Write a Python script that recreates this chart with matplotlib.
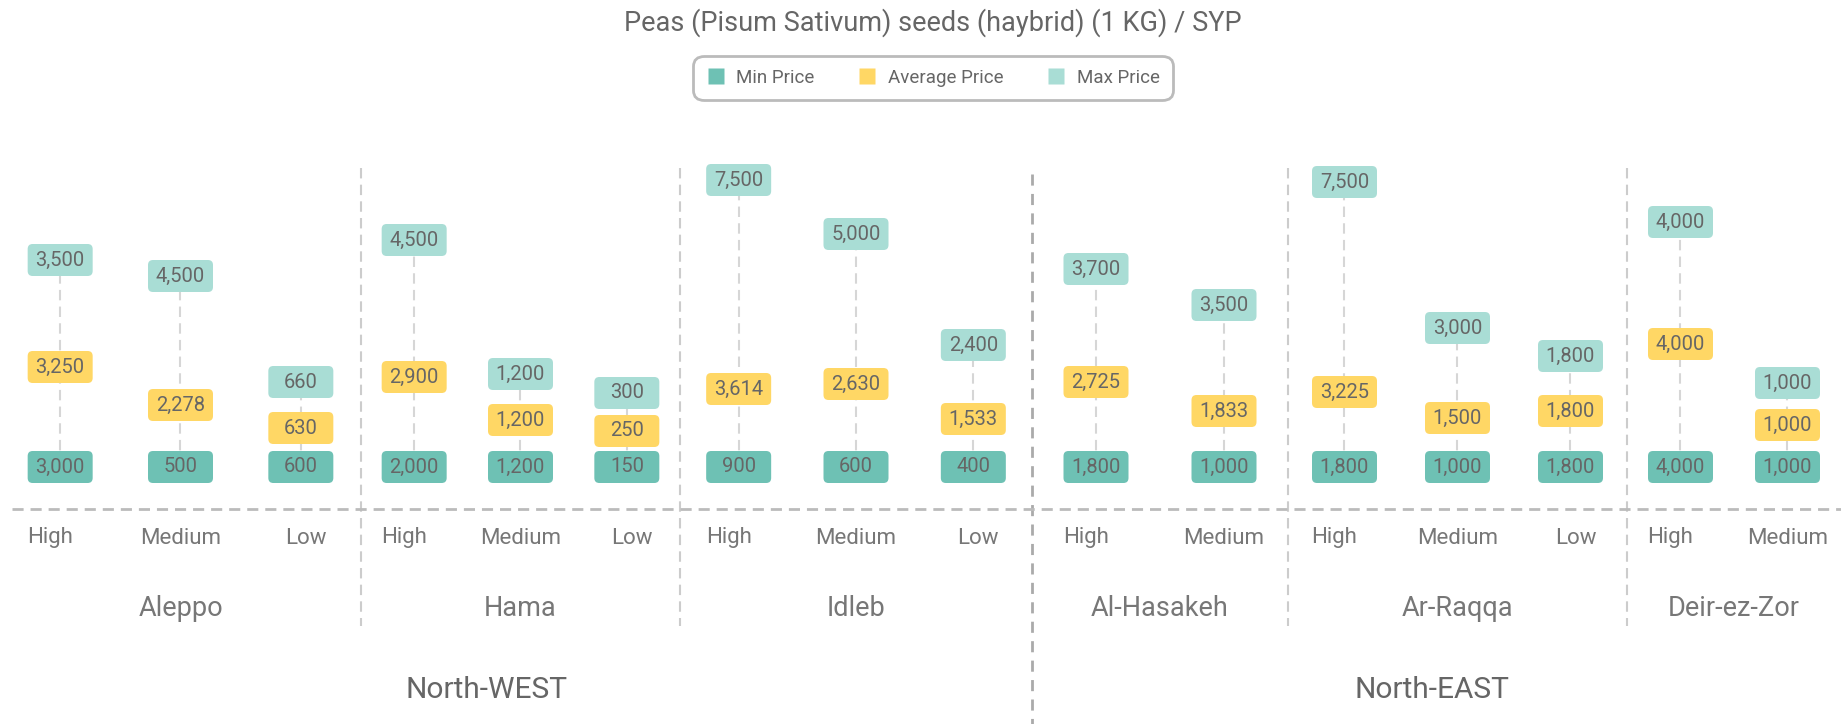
import matplotlib
matplotlib.use("Agg")
import matplotlib.pyplot as plt
from matplotlib.patches import FancyBboxPatch
from matplotlib.lines import Line2D

plt.rcParams["font.family"] = ["Roboto", "DejaVu Sans"]

# data
regions = ["Aleppo", "Hama", "Idleb", "Al-Hasakeh", "Ar-Raqqa", "Deir-ez-Zor"]
region_counts = [3, 3, 3, 2, 3, 2]
zones = ["North-WEST", "North-EAST"]
levels = ["High", "Medium", "Low", "High", "Medium", "Low", "High", "Medium", "Low",
          "High", "Medium", "High", "Medium", "Low", "High", "Medium"]
min_price = [3000, 500, 600, 2000, 1200, 150, 900, 600, 400,
             1800, 1000, 1800, 1000, 1800, 4000, 1000]
avg_price = [3250, 2278, 630, 2900, 1200, 250, 3614, 2630, 1533,
             2725, 1833, 3225, 1500, 1800, 4000, 1000]
max_price = [3500, 4500, 660, 4500, 1200, 300, 7500, 5000, 2400,
             3700, 3500, 7500, 3000, 1800, 4000, 1000]
# label heights above the min row, as drawn in the original
avg_level = [100, 62, 39, 90, 47, 36, 78, 83, 48, 85, 56, 75, 49, 56, 123, 42]
max_level = [207, 191, 85, 227, 93, 74, 287, 233, 122, 198, 162, 285, 139, 111, 245, 84]

# layout
region_widths = [361, 319, 352, 256, 339, 214]
W, H = 1841, 724
base = 467  # min row, pixels from top
c_min, c_avg, c_max = "#6EC1B4", "#FFD765", "#A9DDD5"
txt = "#666666"
tick_shift = {"High": -10, "Medium": 0, "Low": 5}

fig = plt.figure(figsize=(W / 100, H / 100), dpi=100)
ax = fig.add_axes([0, 0, 1, 1])
ax.set_xlim(0, W)
ax.set_ylim(-(H - base), base)
ax.axis("off")

xs = []
starts = []
s = 0
for w, n in zip(region_widths, region_counts):
    starts.append(s)
    for j in range(n):
        xs.append(s + (j + 0.5) * w / n)
    s += w

bw, bh, r = 65, 32, 5


def box(x, y, val, color):
    ax.add_patch(FancyBboxPatch((x - bw / 2 + r, y - bh / 2 + r), bw - 2 * r, bh - 2 * r,
                                boxstyle=f"round,pad={r}", fc=color, ec="none", zorder=3))
    ax.text(x, y, f"{val:,}", ha="center", va="center", fontsize=14.5, color=txt, zorder=4)


for i, x in enumerate(xs):
    ax.plot([x, x], [0, max_level[i]], color="#D6D6D6", lw=1.5, ls=(0, (5, 3)), zorder=1)
    box(x, 0, min_price[i], c_min)
    box(x, avg_level[i], avg_price[i], c_avg)
    box(x, max_level[i], max_price[i], c_max)
    ax.text(x + tick_shift[levels[i]], base - 538, levels[i], ha="center", va="center",
            fontsize=16, color="#777777")

# separators
for k in range(1, len(region_widths)):
    xb = starts[k]
    if k == 3:
        ax.plot([xb, xb], [base - 174, -(H - base)], color="#AAAAAA", lw=2, ls=(0, (4, 3)), zorder=1)
    else:
        ax.plot([xb, xb], [base - 168, base - 626], color="#CCCCCC", lw=1.5, ls=(0, (5, 3)), zorder=1)

ax.plot([12, W], [base - 509, base - 509], color="#BBBBBB", lw=2, ls=(0, (4, 2.5)), zorder=1)

for k, name in enumerate(regions):
    cx = starts[k] + region_widths[k] / 2
    ax.text(cx, base - 608, name, ha="center", va="center", fontsize=19.5, color="#777777")

ax.text(487, base - 690, zones[0], ha="center", va="center", fontsize=21.5, color=txt)
ax.text(1432, base - 690, zones[1], ha="center", va="center", fontsize=21.5, color=txt)

ax.text(933, base - 23, "Peas (Pisum Sativum) seeds (haybrid) (1 KG) / SYP",
        ha="center", va="center", fontsize=19.5, color=txt)

handles = [Line2D([], [], ls="none", marker="s", markersize=11.5, mfc=c, mec="none")
           for c in (c_min, c_avg, c_max)]
leg = ax.legend(handles, ["Min Price", "Average Price", "Max Price"], ncol=3,
                loc="center", bbox_to_anchor=(933 / W, 1 - 78 / H), fontsize=13.5,
                frameon=True, fancybox=True, handlelength=1.0, handletextpad=0.6,
                columnspacing=2.3, borderpad=0.7, labelcolor=txt)
fr = leg.get_frame()
fr.set_edgecolor("#AAAAAA")
fr.set_linewidth(2)
fr.set_boxstyle("round", pad=0, rounding_size=0.55)

fig.savefig("out.png", dpi=100)
